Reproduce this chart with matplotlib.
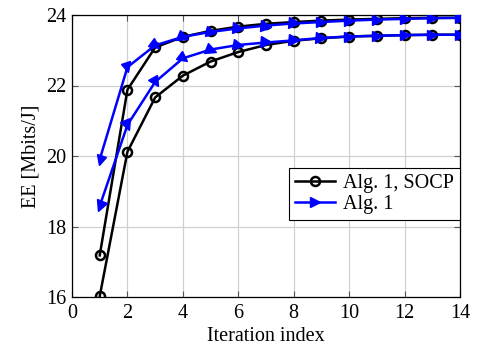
import numpy as np
import matplotlib
matplotlib.use("Agg")
import matplotlib.pyplot as plt
from matplotlib.markers import MarkerStyle
from matplotlib.lines import Line2D
from matplotlib.transforms import Affine2D

plt.rcParams['font.family'] = 'serif'
plt.rcParams['font.serif'] = ['Liberation Serif', 'DejaVu Serif']

iters = np.arange(1, 15)

# Alg. 1, SOCP (two runs)
socp_a = [17.18, 21.88, 23.08, 23.38, 23.55, 23.67, 23.75, 23.80, 23.84, 23.87, 23.89, 23.91, 23.92, 23.92]
socp_b = [16.02, 20.12, 21.66, 22.28, 22.68, 22.95, 23.15, 23.27, 23.34, 23.39, 23.41, 23.43, 23.44, 23.44]
# Alg. 1 (two runs)
alg_a = [19.90, 22.52, 23.14, 23.38, 23.52, 23.62, 23.70, 23.76, 23.80, 23.84, 23.87, 23.89, 23.91, 23.92]
alg_b = [18.58, 20.88, 22.10, 22.77, 23.02, 23.15, 23.22, 23.28, 23.35, 23.39, 23.41, 23.43, 23.44, 23.44]

fs = 14.5

fig = plt.figure(figsize=(4.79, 3.48), dpi=100)
ax = fig.add_axes([72 / 479, 1 - 297 / 348, 388 / 479, 282 / 348])
ax.set_xlim(0, 14)
ax.set_ylim(16, 24)
ax.set_xticks(np.arange(0, 15, 2))
ax.set_yticks(np.arange(16, 25, 2))
ax.grid(True, color='#d0d0d0', linewidth=0.9)
ax.set_axisbelow(True)
ax.tick_params(direction='in', top=True, right=True, labelsize=fs, length=4,
               color='#555555')
ax.tick_params(axis='x', pad=5)
ax.tick_params(axis='y', pad=4)
for s in ax.spines.values():
    s.set_linewidth(0.9)

for ys in (socp_a, socp_b):
    ax.plot(iters, ys, color='black', linewidth=1.8, marker='o', markersize=6.5,
            markerfacecolor='none', markeredgewidth=1.8, zorder=3)


def arrow_angles(xs, ys):
    # triangle orientation follows the line direction on screen
    pts = ax.transData.transform(np.column_stack((xs, ys)))
    out = []
    for i in range(len(pts)):
        if i == 0:
            d = pts[0] - pts[1]
            out.append(np.degrees(np.arctan2(d[1], d[0])))
        else:
            d = pts[i] - pts[i - 1]
            out.append(-np.degrees(np.arctan2(d[1], d[0])))
    return out


for ys in (alg_a, alg_b):
    ax.plot(iters, ys, color='blue', linewidth=1.8, zorder=4)
    for x, y, a in zip(iters, ys, arrow_angles(iters, ys)):
        m = MarkerStyle('>', transform=Affine2D().rotate_deg(a))
        ax.plot([x], [y], linestyle='none', marker=m, color='blue', markersize=7.5, zorder=5)

ax.set_xlabel('Iteration index', fontsize=fs, labelpad=3)
ax.set_ylabel('EE [Mbits/J]', fontsize=fs, labelpad=4)

handles = [
    Line2D([], [], color='black', linewidth=1.8, marker='o', markersize=6.5,
           markerfacecolor='none', markeredgewidth=1.8),
    Line2D([], [], color='blue', linewidth=1.8, marker='>', markersize=7.5),
]
leg = ax.legend(handles, ['Alg. 1, SOCP', 'Alg. 1'], loc='center right',
                bbox_to_anchor=(1.0, 0.365), borderaxespad=0, fontsize=fs,
                fancybox=False, edgecolor='black', framealpha=1,
                handlelength=2.0, handletextpad=0.4, borderpad=0.3, labelspacing=0.1)
leg.get_frame().set_linewidth(0.8)

fig.savefig('out.png', dpi=100)
